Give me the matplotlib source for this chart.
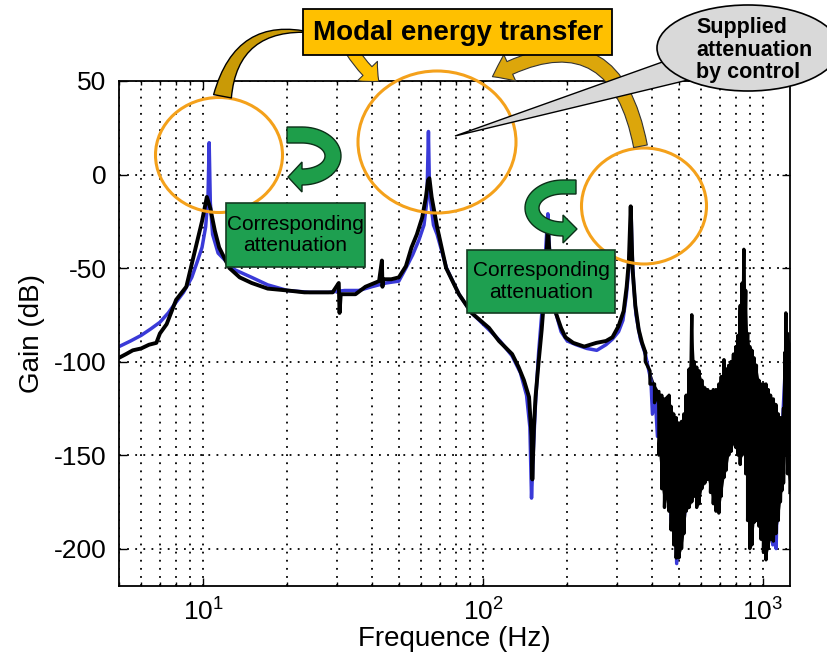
import numpy as np
import matplotlib
matplotlib.use("Agg")
from matplotlib import pyplot as plt
from matplotlib import patches
from matplotlib.ticker import NullFormatter, NullLocator

plt.rcParams['font.family'] = ['Liberation Sans', 'DejaVu Sans']
plt.rcParams['axes.unicode_minus'] = False

# open loop (blue) response
freq_open = [5, 5.5, 6, 6.5, 7, 7.5, 7.75, 8.5, 9.1, 9.5, 9.9, 10.2, 10.4, 10.5, 10.6, 10.8, 11.3, 12, 13, 14.9,
             17, 20, 24, 28, 32, 36, 40, 45, 50, 53, 56, 59, 61.5, 63, 63.8, 64.3, 65, 66.5, 68.5, 74,
             82, 91, 105, 115, 127, 136, 143, 147, 149, 151, 154, 158, 162, 166, 169, 170.5, 172, 176, 182, 190,
             200, 215, 235, 255, 275, 290, 305, 316, 325, 331, 336, 338, 340, 345, 352, 365, 380]
gain_open = [-92, -89, -86, -82.5, -79, -74, -71, -63, -55, -47, -39, -28, -12, 17, -15, -32, -42, -46, -51, -55,
             -59, -62, -63, -63, -62, -62, -60, -58, -57, -50, -43, -35, -27, -14, 23, -5, -15, -27, -32, -50,
             -64, -74, -83, -89, -97, -106, -118, -135, -173, -150, -122, -95, -75, -50, -30, -21, -35, -60, -74, -84,
             -89, -91, -93, -94, -91, -88, -84, -78, -65, -52, -35, -18, -38, -58, -75, -88, -96]
freq_open_hf = [380, 398, 403, 412, 420, 432, 445, 458, 470, 482, 492, 505, 520, 560, 650, 750, 850, 950, 1050,
                1085, 1100, 1115, 1130, 1160, 1210, 1250]
gain_open_hf = [-96, -110, -128, -118, -140, -125, -165, -140, -185, -150, -208, -160, -190, -120, -130, -120,
                -110, -130, -140, -198, -150, -200, -160, -150, -95, -120]

# controlled (black) response
freq_ctrl = [5, 5.3, 5.6, 6, 6.4, 6.8, 7, 7.4, 8, 8.7, 9.4, 9.9, 10.3, 10.6, 11, 11.4, 12.4, 13.5, 14.9, 17,
             20, 23, 26, 29, 30.5, 30.7, 31, 33, 35, 38, 42.5, 43.5, 43.7, 44, 47, 50, 53, 55.5, 58, 60.6,
             62.5, 63.6, 64.3, 65.5, 68.5, 73.8, 82, 91, 105, 114, 127, 134, 140, 146, 149, 150, 152, 154, 158, 162,
             167, 169, 170.5, 172, 176, 182, 190, 197, 210, 230, 254, 275, 290, 305, 318, 326, 332, 337, 339, 342,
             350, 360, 370, 380]
gain_ctrl = [-98, -96, -94, -93, -91, -90, -85, -80, -67, -60, -39, -25, -12, -18, -30, -39, -50, -55, -58, -61,
             -62, -63, -63, -63, -58, -74, -64, -64, -64, -60, -57, -46, -60, -56, -56, -55, -49, -39, -32, -23,
             -12, -3, -2, -12, -28, -50, -64, -74, -82, -89, -96, -103, -110, -119, -140, -163, -135, -119, -100, -83,
             -57, -40, -27, -38, -60, -74, -82, -87, -90, -92, -90, -89, -87, -81, -73, -60, -46, -17, -30, -50,
             -70, -83, -90, -95]

# noisy high frequency part of the controlled response (upper / lower envelope)
freq_hf = [380, 395, 410, 425, 435, 445, 455, 462, 470, 480, 490, 501, 512, 522, 532, 545, 557, 568, 580, 592,
           605, 620, 635, 650, 665, 680, 696, 710, 726, 740, 755, 770, 785, 801, 815, 830, 843, 855, 868, 882,
           898, 914, 930, 948, 968, 985, 1005, 1026, 1045, 1065, 1090, 1113, 1135, 1155, 1169, 1185, 1200, 1208,
           1225, 1250]
hf_high = [-95, -105, -112, -116, -118, -120, -119, -118, -124, -128, -130, -133, -132, -128, -118, -104, -75, -100,
           -103, -105, -110, -114, -115, -116, -115, -115, -112, -108, -99, -104, -102, -100, -96, -92, -86, -70,
           -58, -40, -62, -85, -92, -94, -98, -102, -110, -112, -112, -112, -115, -118, -120, -123, -128, -130,
           -133, -125, -95, -74, -85, -90]
hf_low = [-100, -112, -122, -150, -168, -178, -172, -180, -190, -198, -205, -205, -200, -192, -180, -178, -175,
          -172, -178, -176, -168, -165, -163, -170, -176, -180, -181, -172, -162, -158, -150, -148, -144, -146,
          -150, -155, -150, -130, -160, -185, -200, -198, -186, -185, -188, -195, -202, -206, -200, -195, -196,
          -192, -185, -175, -169, -165, -150, -140, -160, -170]

yticks = [50, 0, -50, -100, -150, -200]
xticks = [10, 100, 1000]

W, H = 828, 659


def fpos(x, y):
    # pixel position (from top-left) -> figure fraction
    return (x / W, 1 - y / H)


def u_arrow(cx, cy, rx, ry, half, hh, hl, ext, d, color):
    # U-turn arrow outline in pixels, d=+1 bulges right, d=-1 bulges left
    th = np.linspace(np.pi / 2, -np.pi / 2, 40)
    outer = [(cx + d * (rx + half) * np.cos(t), cy - (ry + half) * np.sin(t)) for t in th]
    inner = [(cx + d * (rx - half) * np.cos(t), cy - (ry - half) * np.sin(t)) for t in th[::-1]]
    head = [(cx, cy + ry + hh), (cx - d * hl, cy + ry), (cx, cy + ry - hh)]
    tail = [(cx - d * ext, cy - ry + half), (cx - d * ext, cy - ry - half)]
    pts = outer + head + inner + tail
    fig.add_artist(patches.Polygon([fpos(x, y) for x, y in pts], closed=True, transform=fig.transFigure,
                                   fc=color, ec='#0b2e17', lw=1, zorder=5))


fig = plt.figure(figsize=(W / 100, H / 100), dpi=100)
ax = fig.add_axes([119 / W, 1 - 586 / H, 671 / W, 505 / H])

ax.plot(freq_open, gain_open, color='#3a3ad8', lw=2.5)
ax.plot(freq_open_hf, gain_open_hf, color='#3a3ad8', lw=2.5)
ax.plot(freq_ctrl, gain_ctrl, color='black', lw=2.8)
ax.fill_between(freq_hf, hf_low, hf_high, color='black', lw=0)
zig_x = np.repeat(freq_hf, 2)
zig_y = np.column_stack([hf_high, hf_low]).ravel()
ax.plot(zig_x, zig_y, color='black', lw=2.4)

ax.set_xscale('log')
ax.set_xlim(5, 1250)
ax.set_ylim(-220, 50)
ax.set_yticks(yticks)
ax.set_xticks(xticks)
ax.xaxis.set_minor_formatter(NullFormatter())
ax.yaxis.set_minor_locator(NullLocator())
ax.grid(True, which='major', ls=(0, (1, 3.5)), color='black', lw=1.3)
ax.grid(True, which='minor', axis='x', ls=(0, (1, 3.5)), color='black', lw=1.3)
ax.tick_params(which='both', direction='in', top=True, right=True, width=1, labelsize=19)
ax.tick_params(which='major', length=6, pad=9)
ax.tick_params(which='minor', length=3)
for s in ax.spines.values():
    s.set_linewidth(1.3)
ax.set_xlabel('Frequence (Hz)', fontsize=20, labelpad=0)
ax.set_ylabel('Gain (dB)', fontsize=20, labelpad=6)

# orange circles
for cx, cy, w, h in [(219, 155, 127, 115), (437, 142, 158, 142), (644, 206, 125, 116)]:
    fig.add_artist(patches.Ellipse(fpos(cx, cy), w / W, h / H, transform=fig.transFigure,
                                   fill=False, ec='#f4a11b', lw=2.2, zorder=3))

# green boxes
for x0, y0, x1, y1 in [(226, 203, 365, 267), (467, 250, 615, 313)]:
    fig.add_artist(patches.Rectangle(fpos(x0, y1), (x1 - x0) / W, (y1 - y0) / H, transform=fig.transFigure,
                                     fc='#1e9f50', ec='#143c22', lw=1.2, zorder=4))
    fig.text(*fpos((x0 + x1) / 2, (y0 + y1) / 2), 'Corresponding\nattenuation', ha='center', va='center',
             fontsize=15, linespacing=1.15, zorder=4.5)

# green U-turn arrows
u_arrow(302, 156, 31, 21, 8, 15, 14, 15, 1, '#1e9e4a')
u_arrow(563, 208, 31, 21, 7, 14, 14, 13, -1, '#1e9e4a')

# golden arrows
fig.add_artist(patches.FancyArrowPatch(fpos(222, 99), fpos(315, 33), transform=fig.transFigure,
                                       connectionstyle="arc3,rad=-0.5",
                                       arrowstyle="wedge,tail_width=13,shrink_factor=0.5",
                                       fc='#c99a06', ec='black', lw=1, zorder=5))
fig.add_artist(patches.FancyArrowPatch(fpos(350, 48), fpos(381, 83), transform=fig.transFigure,
                                       connectionstyle="arc3,rad=0.1",
                                       arrowstyle="simple,head_length=11,head_width=20,tail_width=9",
                                       fc='#ffc000', ec='#333333', lw=0.8, zorder=5))
fig.add_artist(patches.FancyArrowPatch(fpos(641, 149), fpos(490, 78), transform=fig.transFigure,
                                       connectionstyle="arc3,rad=0.7",
                                       arrowstyle="simple,head_length=14,head_width=21,tail_width=10",
                                       fc='#dca60b', ec='#333333', lw=0.8, zorder=5))

# title box
fig.add_artist(patches.Rectangle(fpos(303, 55), 309 / W, 46 / H, transform=fig.transFigure,
                                 fc='#ffc000', ec='black', lw=1.3, zorder=6))
fig.text(*fpos(458, 33), 'Modal energy transfer', ha='center', va='center', fontsize=20,
         fontweight='bold', zorder=6.5)

# callout bubble
fig.add_artist(patches.Polygon([fpos(668, 60), fpos(688, 80), fpos(455, 136)], closed=True,
                               transform=fig.transFigure, fc='#d9d9d9', ec='black', lw=1, zorder=6))
fig.add_artist(patches.Ellipse(fpos(748, 48), 182 / W, 86 / H, transform=fig.transFigure,
                               fc='#d9d9d9', ec='black', lw=1.2, zorder=6.2))
fig.add_artist(patches.Polygon([fpos(670, 62), fpos(686, 78), fpos(690, 70)], closed=True,
                               transform=fig.transFigure, fc='#d9d9d9', ec='none', zorder=6.3))
fig.text(*fpos(696, 50), 'Supplied\nattenuation\nby control', ha='left', va='center', fontsize=15.5,
         fontweight='bold', linespacing=1.1, zorder=6.5)

fig.savefig('out.png', dpi=100)
